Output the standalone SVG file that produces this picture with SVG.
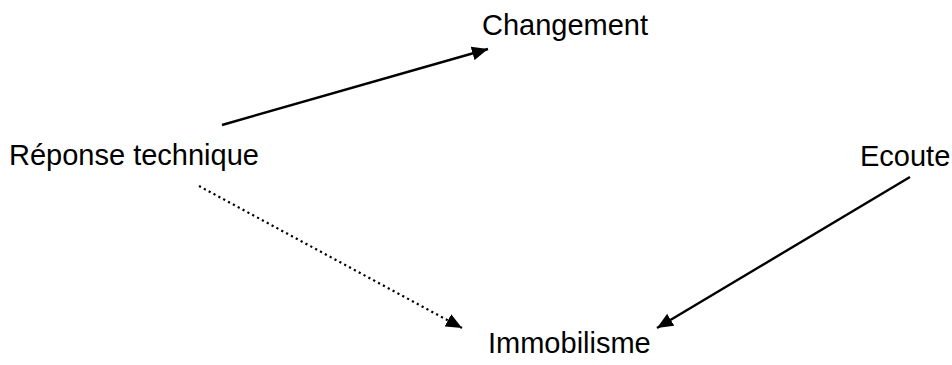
<svg xmlns="http://www.w3.org/2000/svg" width="952" height="365" viewBox="0 0 952 365">
<defs>
<style>
.lbl{font-family:"Liberation Sans",Arial,sans-serif;font-size:29px;fill:#000}
.conn{stroke:#000;stroke-width:2.4;fill:none}
.dot{stroke-width:2.2;stroke-dasharray:2.2 3.3}
</style>
<marker id="ah" markerUnits="userSpaceOnUse" viewBox="0 0 16 14" markerWidth="16" markerHeight="14" refX="16" refY="7" orient="auto">
<path d="M0,0 L16,7 L0,14 z" fill="#000"/>
</marker>
</defs>
<rect width="952" height="365" fill="#fff"/>
<g id="connectors">
<line class="conn" x1="222" y1="125" x2="488" y2="49" marker-end="url(#ah)"/>
<line class="conn dot" x1="199" y1="186" x2="462" y2="328" marker-end="url(#ah)"/>
<line class="conn" x1="910" y1="177" x2="657" y2="328" marker-end="url(#ah)"/>
</g>
<g id="changement"><text class="lbl" x="482" y="35">Changement</text></g>
<g id="reponse"><text class="lbl" x="9" y="165">Réponse technique</text></g>
<g id="ecoute"><text class="lbl" x="860" y="166">Ecoute</text></g>
<g id="immobilisme"><text class="lbl" x="488" y="353">Immobilisme</text></g>
</svg>
